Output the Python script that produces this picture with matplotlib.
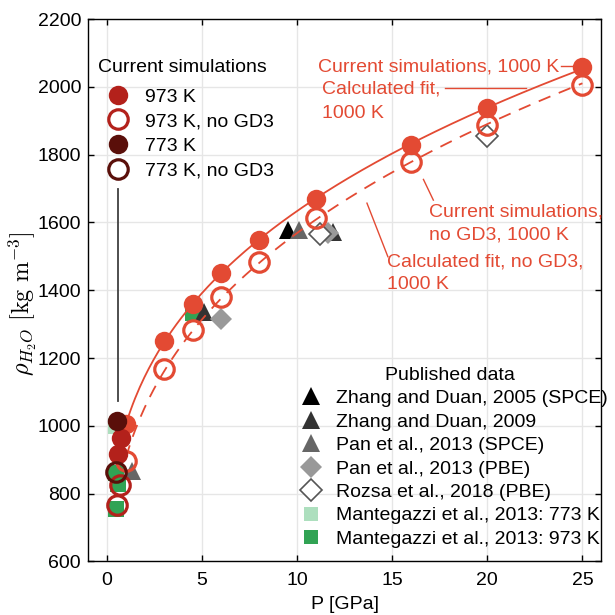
import numpy as np
import matplotlib
matplotlib.use("Agg")
import matplotlib.pyplot as plt
from matplotlib.lines import Line2D

plt.rcParams["font.family"] = ["Liberation Sans", "DejaVu Sans"]
plt.rcParams["font.size"] = 14
plt.rcParams["mathtext.fontset"] = "cm"

RED = "#e34a33"
RED_973 = "#b3211b"
RED_773 = "#5a0f0a"
GREEN_973 = "#31a354"
GREEN_773 = "#addfbe"

# current simulations, 1000 K
p_1000 = [1, 3, 4.5, 6, 8, 11, 16, 20, 25]
rho_1000 = [1005, 1250, 1360, 1450, 1548, 1670, 1830, 1937, 2058]
rho_1000_nogd3 = [895, 1167, 1283, 1381, 1484, 1612, 1779, 1887, 2005]

# current simulations, 973 K / 773 K
p_973 = [0.6, 0.75]
rho_973 = [918, 964]
p_973_nogd3 = [0.55, 0.7]
rho_973_nogd3 = [767, 826]
p_773 = [0.55]
rho_773 = [1014]
p_773_nogd3 = [0.5]
rho_773_nogd3 = [865]

# published data
p_zhang05 = [9.5]
rho_zhang05 = [1578]
p_zhang09 = [5.1, 11.9]
rho_zhang09 = [1337, 1572]
p_pan_spce = [1.3, 10.1]
rho_pan_spce = [868, 1578]
p_pan_pbe = [6.0, 11.6]
rho_pan_pbe = [1315, 1570]
p_rozsa = [11.2, 20]
rho_rozsa = [1565, 1855]
p_mant773 = [0.5]
rho_mant773 = [1000]
p_mant973 = [0.5, 0.6, 0.45, 4.5]
rho_mant973 = [755, 828, 862, 1332]

fig, ax = plt.subplots(figsize=(6.15, 6.15), dpi=100)
fig.subplots_adjust(left=0.143, right=0.978, bottom=0.087, top=0.969)

ms = 14
mew = 2.3

# published data sits underneath the simulations
ax.plot(p_mant773, rho_mant773, "s", color=GREEN_773, ms=12, mew=0, zorder=2)
ax.plot(p_mant973, rho_mant973, "s", color=GREEN_973, ms=12, mew=0, zorder=2)
ax.plot(p_zhang05, rho_zhang05, "^", color="black", ms=13, mew=0, zorder=2)
ax.plot(p_pan_spce, rho_pan_spce, "^", color="#666666", ms=13, mew=0, zorder=2)
ax.plot(p_zhang09, rho_zhang09, "^", color="#333333", ms=13, mew=0, zorder=2)
ax.plot(p_pan_pbe, rho_pan_pbe, "D", color="#999999", ms=11, mew=0, zorder=2)
ax.plot(p_rozsa, rho_rozsa, "D", mfc="white", mec="#555555", ms=11, mew=1.2, zorder=2)

# fits rho = a + b * P^(1/3)
p_fit = np.linspace(1, 25, 200)
c = np.polyfit(np.cbrt(p_1000), rho_1000, 1)
ax.plot(p_fit, np.polyval(c, np.cbrt(p_fit)), "-", color=RED, lw=1.3, zorder=3)
c2 = np.polyfit(np.cbrt(p_1000), rho_1000_nogd3, 1)
ax.plot(p_fit, np.polyval(c2, np.cbrt(p_fit)), "--", color=RED, lw=1.3,
        dashes=(7, 5), zorder=3)

ax.plot(p_1000, rho_1000, "o", color=RED, ms=ms, mew=0, zorder=4)
ax.plot(p_1000, rho_1000_nogd3, "o", mfc="none", mec=RED, ms=ms, mew=mew, zorder=4)

ax.plot(p_973, rho_973, "o", color=RED_973, ms=ms, mew=0, zorder=5)
ax.plot(p_973_nogd3, rho_973_nogd3, "o", mfc="none", mec=RED_973, ms=ms, mew=mew, zorder=5)
ax.plot(p_773, rho_773, "o", color=RED_773, ms=ms, mew=0, zorder=6)
ax.plot(p_773_nogd3, rho_773_nogd3, "o", mfc="none", mec=RED_773, ms=ms, mew=mew, zorder=6)

# leader line from the legend down to the low pressure cluster
ax.plot([0.56, 0.56], [1072, 1699], color="#404040", lw=1.3, zorder=3)

# annotations for the 1000 K series, one text per line
ax.plot([23.86, 24.75], [2061, 2061], color=RED, lw=1)
ax.text(23.8, 2058, "Current simulations, 1000 K", color=RED, ha="right", va="center")
ax.plot([17.77, 22.05], [1996, 1996], color=RED, lw=1)
ax.text(11.3, 1995, "Calculated fit,", color=RED, ha="left", va="center")
ax.text(11.3, 1921, "1000 K", color=RED, ha="left", va="center")
ax.plot([16.64, 17.16], [1727, 1666], color=RED, lw=1)
ax.text(16.95, 1632, "Current simulations,", color=RED, ha="left", va="center")
ax.text(16.95, 1563, "no GD3, 1000 K", color=RED, ha="left", va="center")
ax.plot([13.67, 14.77], [1657, 1499], color=RED, lw=1)
ax.text(14.72, 1484, "Calculated fit, no GD3,", color=RED, ha="left", va="center")
ax.text(14.72, 1416, "1000 K", color=RED, ha="left", va="center")

ax.set_xlim(-1, 26)
ax.set_ylim(600, 2200)
ax.set_xticks([0, 5, 10, 15, 20, 25])
ax.set_yticks(np.arange(600, 2201, 200))
ax.grid(True, color="#e6e6e6", lw=1)
ax.set_axisbelow(True)
ax.tick_params(direction="in", top=True, right=True, length=4, width=1)
ax.tick_params(axis="x", pad=7.5)
ax.tick_params(axis="y", pad=5)
for s in ax.spines.values():
    s.set_linewidth(1)
ax.set_xlabel("P [GPa]", labelpad=5)
ax.set_ylabel(r"$\rho_{H_2O}\ [\mathrm{kg\ m^{-3}}]$", fontsize=17.5)
ax.yaxis.set_label_coords(-0.096, 0.475)

sim_handles = [
    Line2D([], [], ls="none", marker="o", color=RED_973, ms=ms, mew=0),
    Line2D([], [], ls="none", marker="o", mfc="none", mec=RED_973, ms=ms, mew=mew),
    Line2D([], [], ls="none", marker="o", color=RED_773, ms=ms, mew=0),
    Line2D([], [], ls="none", marker="o", mfc="none", mec=RED_773, ms=ms, mew=mew),
]
sim_labels = ["973 K", "973 K, no GD3", "773 K", "773 K, no GD3"]
leg1 = ax.legend(sim_handles, sim_labels, title="Current simulations",
                 loc="upper left", bbox_to_anchor=(0.005, 0.94), frameon=False,
                 labelspacing=0.36, handletextpad=0.4, borderaxespad=0,
                 title_fontsize=14, fontsize=14)
leg1._legend_box.align = "left"
leg1._legend_box.sep = 8.3  # a bit more room under the title
ax.add_artist(leg1)

pub_handles = [
    Line2D([], [], ls="none", marker="^", color="black", ms=13, mew=0),
    Line2D([], [], ls="none", marker="^", color="#333333", ms=13, mew=0),
    Line2D([], [], ls="none", marker="^", color="#666666", ms=13, mew=0),
    Line2D([], [], ls="none", marker="D", color="#999999", ms=11, mew=0),
    Line2D([], [], ls="none", marker="D", mfc="white", mec="#555555", ms=11, mew=1.2),
    Line2D([], [], ls="none", marker="s", color=GREEN_773, ms=10, mew=0),
    Line2D([], [], ls="none", marker="s", color=GREEN_973, ms=10, mew=0),
]
pub_labels = ["Zhang and Duan, 2005 (SPCE)", "Zhang and Duan, 2009",
              "Pan et al., 2013 (SPCE)", "Pan et al., 2013 (PBE)",
              "Rozsa et al., 2018 (PBE)", "Mantegazzi et al., 2013: 773 K",
              "Mantegazzi et al., 2013: 973 K"]
ax.legend(pub_handles, pub_labels, title="Published data", loc="lower right",
          bbox_to_anchor=(1.039, 0.0), frameon=False, labelspacing=0.3,
          handletextpad=0.3, borderaxespad=0.3, title_fontsize=14, fontsize=14)

fig.savefig("out.png", dpi=100)
